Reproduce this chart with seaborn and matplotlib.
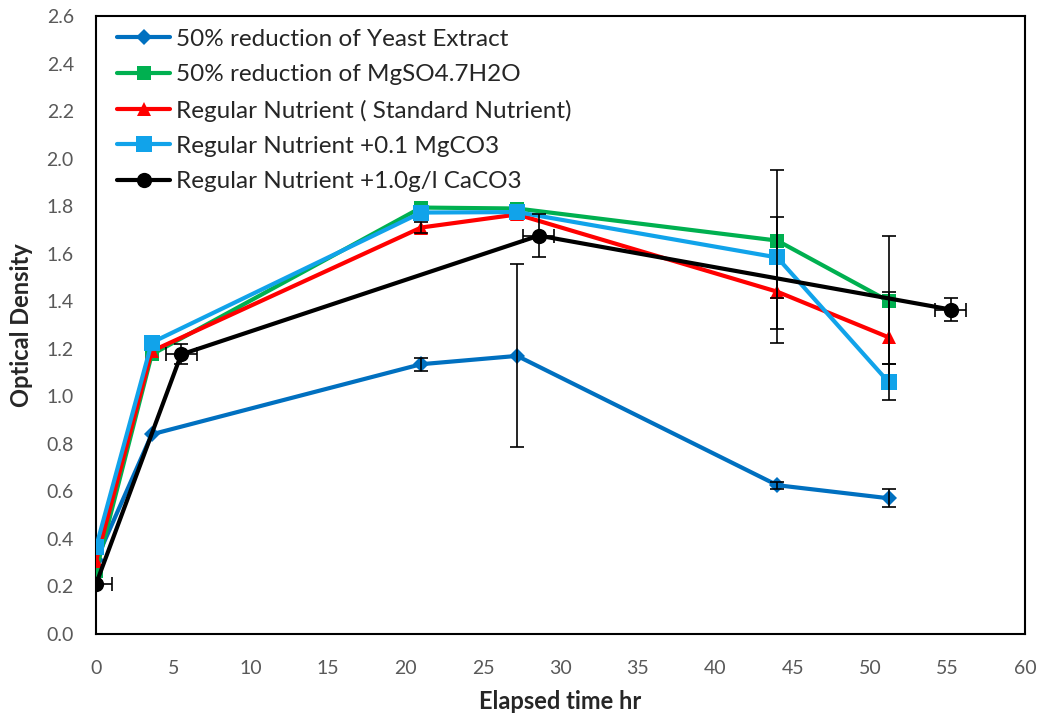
import matplotlib
matplotlib.use("Agg")
import matplotlib.pyplot as plt
import seaborn as sns
import numpy as np
import pandas as pd

# ---- data ----
labels = ["50% reduction of Yeast Extract",
          "50% reduction of MgSO4.7H2O",
          "Regular Nutrient ( Standard Nutrient)",
          "Regular Nutrient +0.1 MgCO3",
          "Regular Nutrient +1.0g/l CaCO3"]

t_main = [0, 3.6, 21, 27.2, 44, 51.2]
t_caco3 = [0, 5.5, 28.6, 55.2]

yeast = [0.31, 0.84, 1.135, 1.17, 0.626, 0.571]
mgso4 = [0.265, 1.176, 1.794, 1.79, 1.655, 1.40]
regular = [0.307, 1.19, 1.71, 1.765, 1.44, 1.248]
mgco3 = [0.365, 1.226, 1.773, 1.775, 1.584, 1.059]
caco3 = [0.21, 1.176, 1.676, 1.365]

# error bars (lower, upper)
yeast_err_lo = [0, 0, 0.028, 0.385, 0.015, 0.038]
yeast_err_hi = [0, 0, 0.028, 0.385, 0.015, 0.038]
mgso4_err_lo = [0, 0, 0, 0, 0.43, 0.265]
mgso4_err_hi = [0, 0, 0, 0, 0.295, 0.275]
regular_err_lo = [0, 0, 0.025, 0, 0.155, 0.19]
regular_err_hi = [0, 0, 0.025, 0, 0.155, 0.19]
mgco3_err_lo = [0, 0, 0, 0, 0.17, 0.076]
mgco3_err_hi = [0, 0, 0, 0, 0.17, 0.076]
caco3_yerr = [0, 0.042, 0.09, 0.05]
caco3_xerr = [1.0, 1.0, 1.0, 1.0]

colors = ["#0070C0", "#00B050", "#FF0000", "#11A3EA", "#000000"]
markers = ["D", "s", "^", "s", "o"]
msizes = [8, 10, 10, 11, 11]

sns.set_style("white")
plt.rcParams['font.family'] = ['Lato', 'DejaVu Sans']

fig = plt.figure(figsize=(10.46, 7.13), dpi=100)
ax = fig.add_axes([0.0918, 0.1108, 0.8881, 0.8668])

series = [(t_main, yeast, yeast_err_lo, yeast_err_hi),
          (t_main, mgso4, mgso4_err_lo, mgso4_err_hi),
          (t_main, regular, regular_err_lo, regular_err_hi),
          (t_main, mgco3, mgco3_err_lo, mgco3_err_hi)]

for i, (tx, yv, lo, hi) in enumerate(series):
    df = pd.DataFrame({"t": tx, "y": yv})
    sns.lineplot(data=df, x="t", y="y", ax=ax, sort=False, color=colors[i],
                 marker=markers[i], markersize=msizes[i], markeredgewidth=0,
                 linewidth=3, label=labels[i], zorder=3 + i)
    lo_a = np.array(lo); hi_a = np.array(hi)
    mask = (lo_a + hi_a) > 0
    ax.errorbar(np.array(tx)[mask], np.array(yv)[mask],
                yerr=[lo_a[mask], hi_a[mask]], fmt="none", ecolor="black",
                elinewidth=1.2, capsize=5, capthick=1.2, zorder=3 + i)

df = pd.DataFrame({"t": t_caco3, "y": caco3})
sns.lineplot(data=df, x="t", y="y", ax=ax, sort=False, color=colors[4],
             marker=markers[4], markersize=msizes[4], markeredgewidth=0,
             linewidth=3, label=labels[4], zorder=8)
ax.errorbar(t_caco3, caco3, yerr=caco3_yerr, xerr=caco3_xerr, fmt="none",
            ecolor="black", elinewidth=1.2, capsize=5, capthick=1.2, zorder=8)

ax.set_xlim(0, 60)
ax.set_ylim(0, 2.6)
ax.set_xticks(np.arange(0, 61, 5))
ax.set_yticks(np.arange(0, 2.61, 0.2))
ax.set_yticklabels([f"{v:.1f}" for v in np.arange(0, 2.61, 0.2)])
ax.tick_params(axis="x", direction="in", length=6, width=1.2, colors="black",
               labelcolor="#595959", labelsize=14, pad=19)
ax.tick_params(axis="y", direction="in", length=7, width=1.2, colors="black",
               labelcolor="#595959", labelsize=14, pad=16)
for s in ax.spines.values():
    s.set_visible(True)
    s.set_color("black")
    s.set_linewidth(1.5)

ax.set_xlabel("Elapsed time hr", fontsize=17, fontweight="bold")
ax.set_ylabel("Optical Density", fontsize=17, fontweight="bold")
ax.xaxis.set_label_coords(0.5, -0.09)
ax.yaxis.set_label_coords(-0.068, 0.5)

leg = ax.legend(loc="upper left", bbox_to_anchor=(0.012, 0.995), frameon=False,
                fontsize=17.5, handlelength=2.2, labelspacing=0.59,
                handletextpad=0.25, borderaxespad=0.0)

fig.savefig("out.png", dpi=100)
